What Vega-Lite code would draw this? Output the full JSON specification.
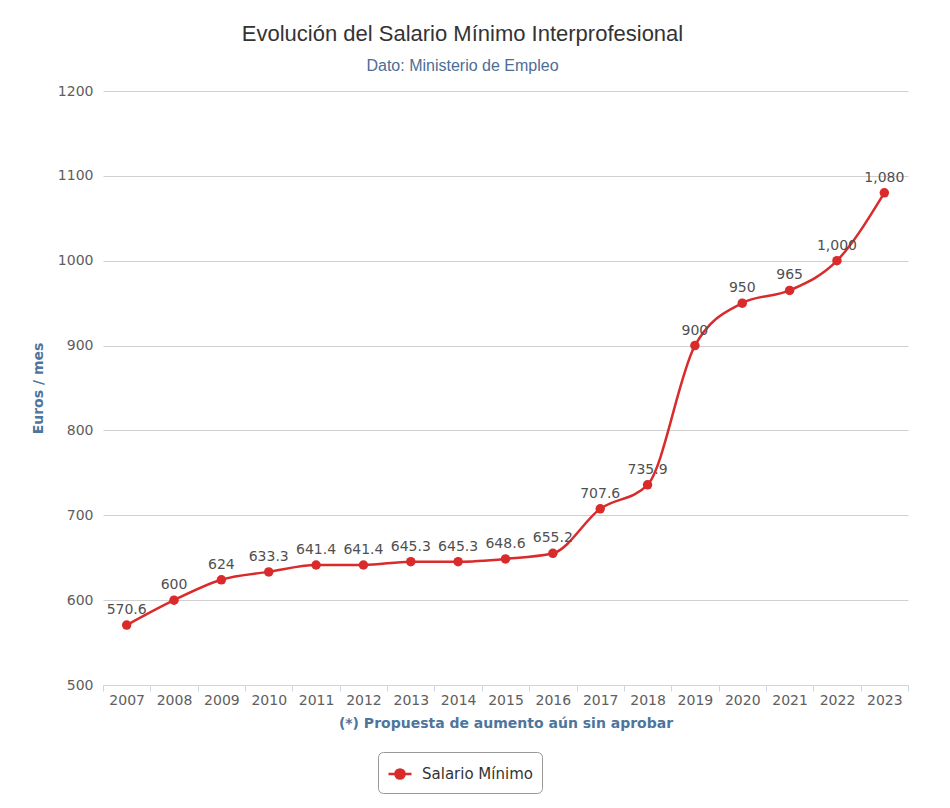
{
  "$schema": "https://vega.github.io/schema/vega-lite/v6.json",
  "width": 805,
  "height": 594,
  "autosize": {"type": "none"},
  "padding": {"left": 103, "top": 91, "right": 42, "bottom": 123},
  "background": "#ffffff",
  "title": {
    "text": "Evolución del Salario Mínimo Interprofesional",
    "subtitle": "Dato: Ministerio de Empleo",
    "anchor": "middle",
    "dx": -43,
    "offset": 9,
    "font": "Liberation Sans",
    "fontSize": 22,
    "fontWeight": "normal",
    "color": "#333333",
    "subtitleFont": "Liberation Sans",
    "subtitleFontSize": 16,
    "subtitleColor": "#4d6d96",
    "subtitlePadding": 12
  },
  "data": {
    "values": [
      {"anio": "2007", "salario": 570.6},
      {"anio": "2008", "salario": 600},
      {"anio": "2009", "salario": 624},
      {"anio": "2010", "salario": 633.3},
      {"anio": "2011", "salario": 641.4},
      {"anio": "2012", "salario": 641.4},
      {"anio": "2013", "salario": 645.3},
      {"anio": "2014", "salario": 645.3},
      {"anio": "2015", "salario": 648.6},
      {"anio": "2016", "salario": 655.2},
      {"anio": "2017", "salario": 707.6},
      {"anio": "2018", "salario": 735.9},
      {"anio": "2019", "salario": 900},
      {"anio": "2020", "salario": 950},
      {"anio": "2021", "salario": 965},
      {"anio": "2022", "salario": 1000},
      {"anio": "2023", "salario": 1080}
    ]
  },
  "encoding": {
    "x": {
      "field": "anio",
      "type": "ordinal",
      "scale": {"type": "band", "paddingInner": 0, "paddingOuter": 0},
      "axis": {
        "title": "(*) Propuesta de aumento aún sin aprobar",
        "titleFont": "DejaVu Sans",
        "titleFontSize": 14,
        "titleFontWeight": "bold",
        "titleColor": "#4d759e",
        "titlePadding": 9,
        "labelAngle": 0,
        "labelFont": "DejaVu Sans",
        "labelFontSize": 14,
        "labelColor": "#5e5e5e",
        "labelPadding": 2,
        "tickBand": "extent",
        "tickSize": 6,
        "tickColor": "#ccd6eb",
        "domainColor": "#ccd6eb",
        "grid": false
      }
    },
    "y": {
      "field": "salario",
      "type": "quantitative",
      "scale": {"domain": [500, 1200], "nice": false, "zero": false},
      "axis": {
        "title": "Euros / mes",
        "titleFont": "DejaVu Sans",
        "titleFontSize": 14,
        "titleFontWeight": "bold",
        "titleColor": "#4d759e",
        "titlePadding": 12,
        "values": [500, 600, 700, 800, 900, 1000, 1100, 1200],
        "format": "d",
        "labelFont": "DejaVu Sans",
        "labelFontSize": 14,
        "labelColor": "#5e5e5e",
        "labelPadding": 10,
        "ticks": false,
        "domain": false,
        "grid": true,
        "gridColor": "#d0d0d0",
        "gridWidth": 1
      }
    }
  },
  "layer": [
    {
      "mark": {"type": "line", "interpolate": "monotone", "strokeWidth": 2.5},
      "encoding": {
        "color": {
          "datum": "Salario Mínimo",
          "type": "nominal",
          "scale": {"range": ["#d92b2b"]},
          "legend": {
            "title": null,
            "orient": "none",
            "legendX": 275,
            "legendY": 661,
            "padding": 9,
            "strokeColor": "#999999",
            "cornerRadius": 5,
            "fillColor": "#ffffff",
            "symbolType": "M -1 0 L 1 0 M -0.4 0 A 0.4 0.4 0 1 1 0.4 0 A 0.4 0.4 0 1 1 -0.4 0 Z",
            "symbolSize": 529,
            "symbolStrokeWidth": 2.5,
            "symbolFillColor": "#d92b2b",
            "symbolStrokeColor": "#d92b2b",
            "labelFont": "DejaVu Sans",
            "labelFontSize": 15,
            "labelColor": "#333333",
            "labelOffset": 9
          }
        }
      }
    },
    {
      "mark": {"type": "point", "filled": true, "size": 90, "opacity": 1},
      "encoding": {
        "color": {"datum": "Salario Mínimo", "type": "nominal"}
      }
    },
    {
      "mark": {
        "type": "text",
        "dy": -11,
        "baseline": "alphabetic",
        "font": "DejaVu Sans",
        "fontSize": 14,
        "color": "#505050"
      },
      "encoding": {
        "text": {"field": "salario", "type": "quantitative", "format": ",.1~f"}
      }
    }
  ],
  "config": {
    "view": {"stroke": null}
  }
}
